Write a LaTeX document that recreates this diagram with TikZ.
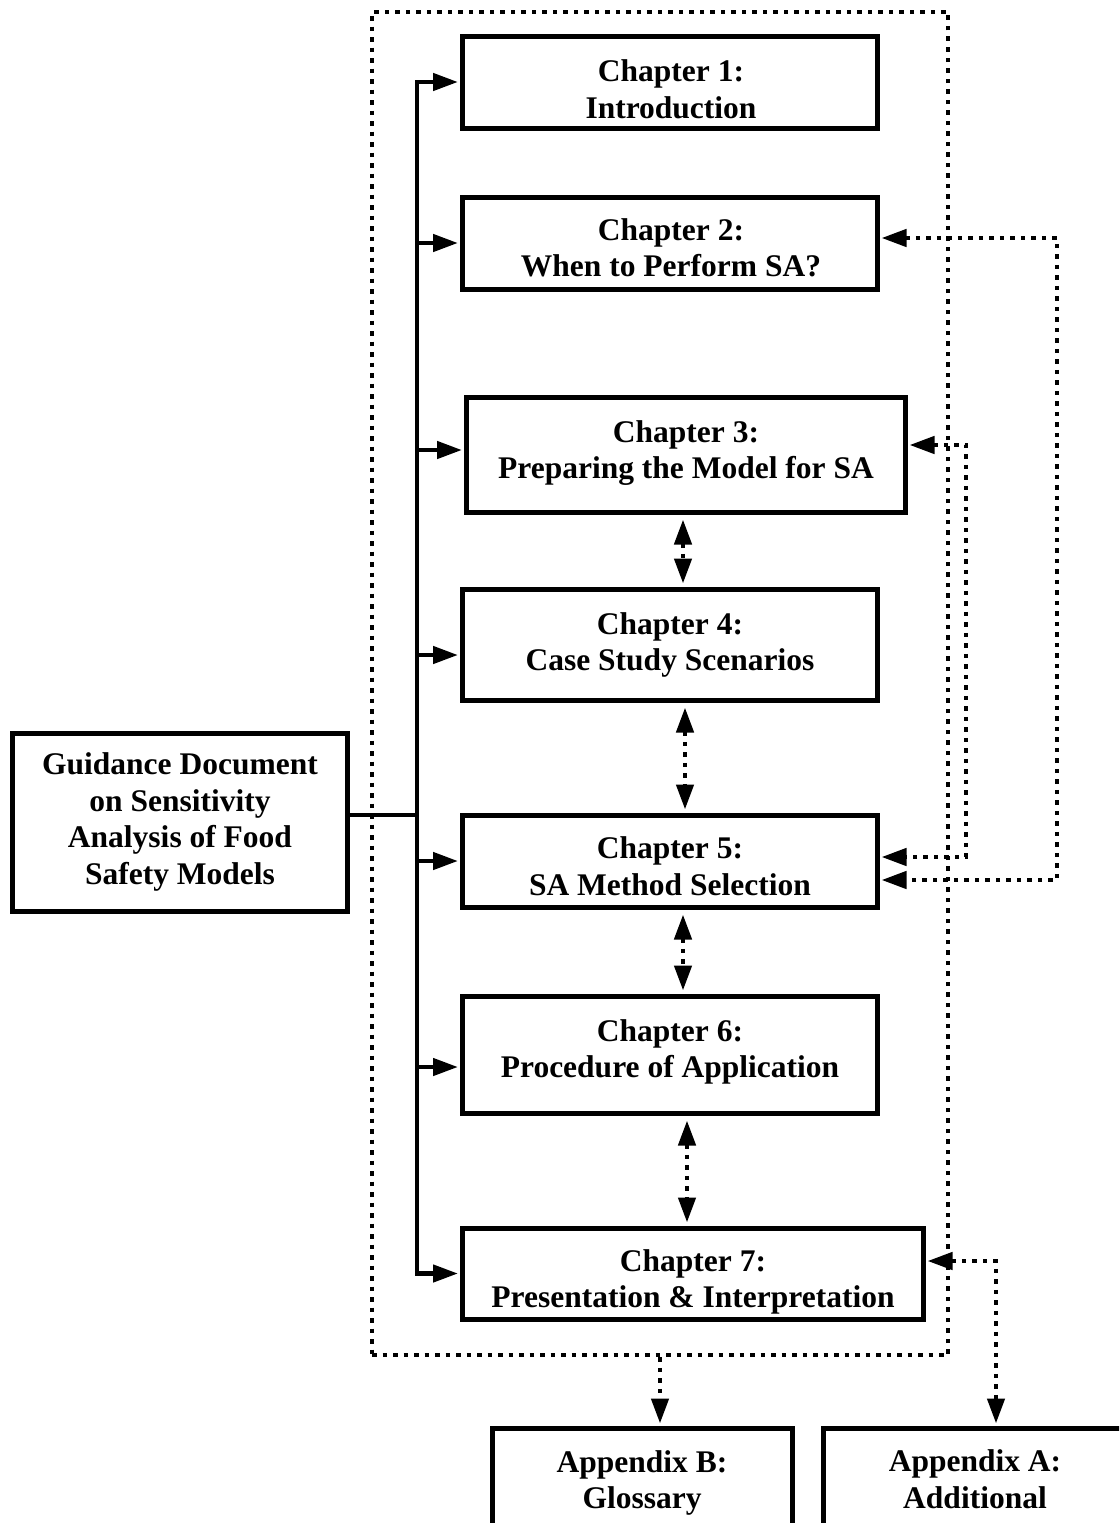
\documentclass[tikz,border=0pt]{standalone}
\usepackage{fontspec}
\setmainfont{Liberation Serif}
\usetikzlibrary{arrows.meta,calc}
\begin{document}
\begin{tikzpicture}[x=1pt,y=-1pt,
  bigtri/.tip={Triangle[length=25pt,width=17pt]},
  box/.style={draw, line width=5pt, inner sep=0pt},
  txt/.style={align=center, inner sep=0pt, font=\bfseries\fontsize{31.5pt}{36.5pt}\selectfont},
  conn/.style={line width=4.5pt, line join=miter},
  arr/.style={conn, -bigtri, shorten >=1.5pt},
  dots/.style={line width=4.5pt, dash pattern=on 4.5pt off 6pt},
  dd/.style={dots, bigtri-bigtri, shorten <=2pt, shorten >=2pt},
  dv/.style={dots, bigtri-bigtri, shorten <=5pt, shorten >=3pt}]
\useasboundingbox (0,0) rectangle (1119,1523);
\clip (0,0) rectangle (1119,1523);
% frame
\node[draw, dots, minimum width=576pt, minimum height=1343pt, inner sep=0pt] (fr) at (660,683.5) {};
% boxes
\node[box, minimum width=415pt, minimum height=92pt] (c1) at (669.5,82) {};
\node[txt] (c1t) at (671,89.5) {Chapter 1:\\Introduction};
\node[box, minimum width=415pt, minimum height=92pt] (c2) at (669.5,243) {};
\node[txt] (c2t) at (671,248) {Chapter 2:\\When to Perform SA?};
\node[box, minimum width=439pt, minimum height=115pt] (c3) at (685.5,454.5) {};
\node[txt] (c3t) at (686,453) {Chapter 3:\\Preparing the Model for SA};
\node[box, minimum width=415pt, minimum height=111pt] (c4) at (669.5,644.5) {};
\node[txt] (c4t) at (670,645) {Chapter 4:\\Case Study Scenarios};
\node[box, minimum width=415pt, minimum height=92pt] (c5) at (669.5,861) {};
\node[txt] (c5t) at (670,866) {Chapter 5:\\SA Method Selection};
\node[box, minimum width=415pt, minimum height=117pt] (c6) at (669.5,1054.5) {};
\node[txt] (c6t) at (670,1052) {Chapter 6:\\Procedure of Application};
\node[box, minimum width=461pt, minimum height=91pt] (c7) at (692.5,1273.5) {};
\node[txt] (c7t) at (693,1282) {Chapter 7:\\Presentation \& Interpretation};
\node[box, minimum width=335pt, minimum height=178pt] (g) at (179.5,822) {};
\node[txt] (gt) at (180,822) {Guidance Document\\on Sensitivity\\Analysis of Food\\Safety Models};
\node[box, minimum width=300pt, minimum height=192pt] (ab) at (642,1524) {};
\node[txt] (abt) at (642,1483) {Appendix B:\\Glossary};
\node[box, minimum width=304pt, minimum height=192pt] (aa) at (975,1524) {};
\node[txt] (aat) at (975,1479) {Appendix A:\\Additional};
% trunk
\coordinate (j) at (417,815);
\draw[conn] (g.east |- j) -- (j);
\draw[arr] (j) -- (j |- c1.west) -- (c1.west);
\draw[arr] (j) -- (j |- c7.west) -- (c7.west);
\draw[arr] (j |- c2.west) -- (c2.west);
\coordinate (b3) at ($(c3.west)+(0,-4.5)$);
\draw[arr] (j |- b3) -- (b3);
\coordinate (b4) at ($(c4.west)+(0,10.5)$);
\draw[arr] (j |- b4) -- (b4);
\draw[arr] (j |- c5.west) -- (c5.west);
\coordinate (b6) at ($(c6.west)+(0,12.5)$);
\draw[arr] (j |- b6) -- (b6);
% chapter-to-chapter dotted
\coordinate (v34) at (683,0);
\coordinate (v45) at (685,0);
\coordinate (v56) at (683,0);
\coordinate (v67) at (687,0);
\draw[dv] (c3.south -| v34) -- (c4.north -| v34);
\draw[dv] (c4.south -| v45) -- (c5.north -| v45);
\draw[dv] (c5.south -| v56) -- (c6.north -| v56);
\draw[dv] (c6.south -| v67) -- (c7.north -| v67);
% right dotted connectors
\coordinate (e2) at ($(c2.east)+(0,-5)$);
\coordinate (e3) at ($(c3.east)+(0,-9.5)$);
\coordinate (e5a) at ($(c5.east)+(0,-4)$);
\coordinate (e5b) at ($(c5.east)+(0,19)$);
\coordinate (e7) at ($(c7.east)+(0,-12.5)$);
\coordinate (xa) at (1057,0);
\coordinate (xb) at (966,0);
\coordinate (xc) at (996,0);
\draw[dd] (e2) -- (e2 -| xa) -- (e5b -| xa) -- (e5b);
\draw[dd] (e3) -- (e3 -| xb) -- (e5a -| xb) -- (e5a);
\draw[dd] (e7) -- (e7 -| xc) -- (aa.north -| xc);
\draw[dots, -bigtri, shorten >=2pt] (fr.south) -- (ab.north -| fr.south);
\end{tikzpicture}
\end{document}
